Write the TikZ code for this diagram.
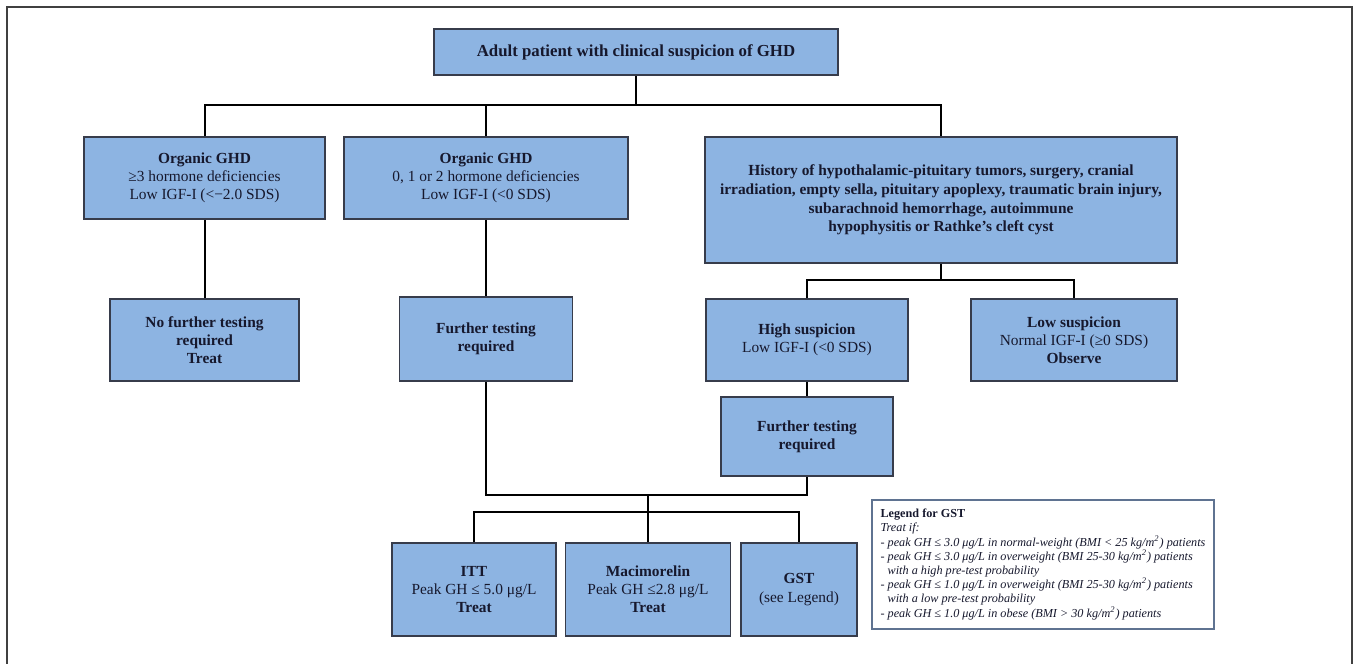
\documentclass[tikz,border=0pt]{standalone}
\usepackage{fontspec}
\setmainfont{Liberation Serif}
\usetikzlibrary{positioning}

\definecolor{boxfill}{RGB}{141,180,226}
\definecolor{boxline}{RGB}{55,60,75}
\definecolor{ink}{RGB}{22,24,45}
\definecolor{legline}{RGB}{95,115,145}

\tikzset{
  box/.style={draw=boxline, fill=boxfill, line width=0.75pt, align=center, text=ink,
    inner sep=2pt, font=\fontsize{7.7}{9.1}\selectfont},
  legendbox/.style={draw=legline, fill=white, line width=0.9pt, align=left, text=ink,
    minimum width=171pt, minimum height=64.5pt, inner sep=1pt, font=\fontsize{6.1}{7.1}\selectfont},
  link/.style={line width=1pt, black}
}

\begin{document}
\begin{tikzpicture}[x=0.5pt, y=-0.5pt]
  \useasboundingbox (0,0) rectangle (1356,664);
  \draw[line width=0.8pt, black!75] (7,664) |- (1352,7) -- (1352,664);

  \node[box, minimum width=202pt, minimum height=23pt, font=\fontsize{8.4}{9.3}\selectfont] (top) at (636,52)
    {\textbf{Adult patient with clinical suspicion of GHD}};
  \node[box, minimum width=120.5pt, minimum height=41pt] (orgA) at (204.5,178)
    {\textbf{Organic GHD}\\ ≥3 hormone deficiencies\\ Low IGF-I (<−2.0 SDS)};
  \node[box, minimum width=142pt, minimum height=41pt] (orgB) at (486,178)
    {\textbf{Organic GHD}\\ 0, 1 or 2 hormone deficiencies\\ Low IGF-I (<0 SDS)};
  \node[box, minimum width=236pt, minimum height=63pt, font=\bfseries\fontsize{7.7}{9.3}\selectfont] (hist) at (941,200)
    {History of hypothalamic-pituitary tumors, surgery, cranial\\
     irradiation, empty sella, pituitary apoplexy, traumatic brain injury,\\
     subarachnoid hemorrhage, autoimmune\\
     hypophysitis or Rathke’s cleft cyst};

  \node[box, minimum width=94.5pt, minimum height=41pt, font=\bfseries\fontsize{7.7}{9.1}\selectfont] (notest) at (204.5,340)
    {No further testing\\ required\\ Treat};
  \node[box, minimum width=86.5pt, minimum height=42pt, font=\bfseries\fontsize{7.7}{9.1}\selectfont] (furtherA) at (486,339)
    {Further testing\\ required};
  \node[box, minimum width=101pt, minimum height=41pt] (high) at (807,340)
    {\textbf{High suspicion}\\ Low IGF-I (<0 SDS)};
  \node[box, minimum width=103pt, minimum height=41pt] (low) at (1074,340)
    {\textbf{Low suspicion}\\ Normal IGF-I (≥0 SDS)\\ \textbf{Observe}};
  \node[box, minimum width=86pt, minimum height=39.5pt, font=\bfseries\fontsize{7.7}{9.1}\selectfont] (furtherB) at (807,436.5)
    {Further testing\\ required};

  \node[box, minimum width=82pt, minimum height=46.5pt] (itt) at (474,589.5)
    {\textbf{ITT}\\ Peak GH ≤ 5.0 μg/L\\ \textbf{Treat}};
  \node[box, minimum width=82.5pt, minimum height=46.5pt] (maci) at (648,589.5)
    {\textbf{Macimorelin}\\ Peak GH ≤2.8 μg/L\\ \textbf{Treat}};
  \node[box, minimum width=58pt, minimum height=46.5pt] (gst) at (799,589.5)
    {\textbf{GST}\\ (see Legend)};

  \node[legendbox] (legend) at (1043,564.5)
    {\textbf{Legend for GST}\\
     \textit{Treat if:}\\
     \textit{- peak GH ≤ 3.0 μg/L in normal-weight (BMI < 25 kg/m\textsuperscript{2}) patients}\\
     \textit{- peak GH ≤ 3.0 μg/L in overweight (BMI 25-30 kg/m\textsuperscript{2}) patients}\\
     \textit{\hphantom{-} with a high pre-test probability}\\
     \textit{- peak GH ≤ 1.0 μg/L in overweight (BMI 25-30 kg/m\textsuperscript{2}) patients}\\
     \textit{\hphantom{-} with a low pre-test probability}\\
     \textit{- peak GH ≤ 1.0 μg/L in obese (BMI > 30 kg/m\textsuperscript{2}) patients}};

  \coordinate (j1) at (636,105);
  \coordinate (j2) at (941,280);
  \coordinate (j3) at (648,495);
  \coordinate (j4) at (648,512);

  \draw[link] (top) -- (j1);
  \draw[link] (orgA) |- (j1) -| (hist);
  \draw[link] (orgB) -- (orgB |- j1);
  \draw[link] (orgA) -- (notest);
  \draw[link] (orgB) -- (furtherA);
  \draw[link] (hist) -- (j2);
  \draw[link] (high) |- (j2) -| (low);
  \draw[link] (high) -- (furtherB);
  \draw[link] (furtherA) |- (j3) -| (furtherB);
  \draw[link] (j3) -- (j4);
  \draw[link] (itt) |- (j4) -| (gst);
  \draw[link] (maci) -- (j4);
\end{tikzpicture}
\end{document}
